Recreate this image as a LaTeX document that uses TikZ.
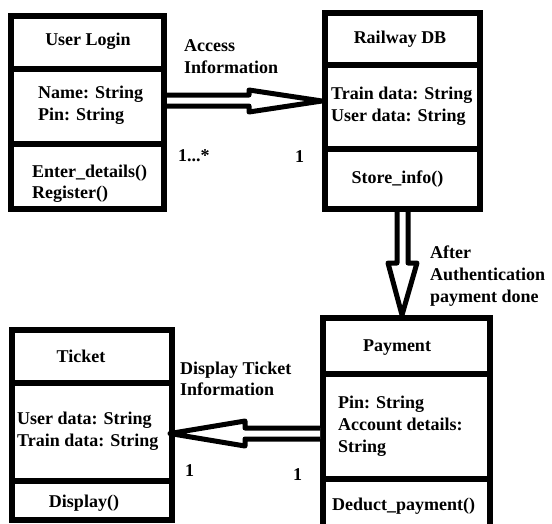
\documentclass[tikz,border=0pt]{standalone}
\usepackage{fontspec}
\setmainfont{Liberation Serif}
\usetikzlibrary{calc}
\begin{document}
\begin{tikzpicture}[x=1pt,y=-1pt,
  box/.style={draw, rectangle, line width=6pt, inner sep=0pt},
  divider/.style={line width=6pt},
  arr/.style={draw, line width=5pt, line join=round, fill=white},
  txt/.style={font=\fontsize{18}{22}\selectfont\bfseries, inner sep=0pt},
  lt/.style={txt, anchor=base west},
  ct/.style={txt, anchor=base}]
\useasboundingbox (0,0) rectangle (552,523);
\clip (0,0) rectangle (552,523);

% boxes
\node[box, minimum width=153pt, minimum height=193.5pt] (ul) at (87.5,112.25) {};
\node[box, minimum width=155pt, minimum height=196.5pt] (rdb) at (402.5,110.75) {};
\node[box, minimum width=167pt, minimum height=242pt] (pay) at (406.5,439) {};
\node[box, minimum width=160pt, minimum height=190pt] (tk) at (92,425) {};

% dividers
\draw[divider] (ul.west |- 0,69) -- (ul.east |- 0,69);
\draw[divider] (ul.west |- 0,144) -- (ul.east |- 0,144);
\draw[divider] (rdb.west |- 0,65) -- (rdb.east |- 0,65);
\draw[divider] (rdb.west |- 0,149) -- (rdb.east |- 0,149);
\draw[divider] (pay.west |- 0,374) -- (pay.east |- 0,374);
\draw[divider] (pay.west |- 0,479) -- (pay.east |- 0,479);
\draw[divider] (tk.west |- 0,383) -- (tk.east |- 0,383);
\draw[divider] (tk.west |- 0,481) -- (tk.east |- 0,481);

% arrows
\path[arr] (ul.east |- 0,95) -- (249,95) -- (249,90) -- (rdb.west |- 0,101)
  -- (249,112) -- (249,106) -- (ul.east |- 0,106);
\path[arr] (397,0 |- rdb.south) -- (397,263) -- (388,263) -- (402,0 |- pay.north)
  -- (417,263) -- (408,263) -- (408,0 |- rdb.south);
\path[arr] (pay.west |- 0,428) -- (245,428) -- (245,421) -- ($(tk.east |- 0,433.5)+(-5,0)$)
  -- (245,446) -- (245,439) -- (pay.west |- 0,439);

% texts: User Login
\node[ct] (t1) at (88,45) {User Login};
\node[lt] (t2) at (38,98) {Name: String};
\node[lt] (t3) at (38,120) {Pin: String};
\node[lt] (t4) at (32,177) {Enter\_details()};
\node[lt] (t5) at (32,198) {Register()};

% Railway DB
\node[ct] (t6) at (400,43) {Railway DB};
\node[lt] (t7) at (331,99) {Train data: String};
\node[lt] (t8) at (331,121) {User data: String};
\node[ct] (t9) at (397.5,183) {Store\_info()};

% Payment
\node[ct] (t10) at (397,351) {Payment};
\node[lt] (t11) at (338,408) {Pin: String};
\node[lt] (t12) at (338,430) {Account details:};
\node[lt] (t13) at (338,452) {String};
\node[lt] (t14) at (332,510) {Deduct\_payment()};

% Ticket
\node[ct] (t15) at (81,362) {Ticket};
\node[lt] (t16) at (17,424) {User data: String};
\node[lt] (t17) at (17,446) {Train data: String};
\node[ct] (t18) at (84,507) {Display()};

% labels
\node[lt] (l1) at (184,51) {Access};
\node[lt] (l2) at (184,73) {Information};
\node[lt] (l3) at (178,161) {1...*};
\node[lt] (l4) at (295,162) {1};
\node[lt] (l5) at (430,258) {After};
\node[lt] (l6) at (430,280) {Authentication};
\node[lt] (l7) at (430,302) {payment done};
\node[lt] (l8) at (180,374) {Display Ticket};
\node[lt] (l9) at (180,395) {Information};
\node[lt] (l10) at (185,476) {1};
\node[lt] (l11) at (293,480) {1};
\end{tikzpicture}
\end{document}
